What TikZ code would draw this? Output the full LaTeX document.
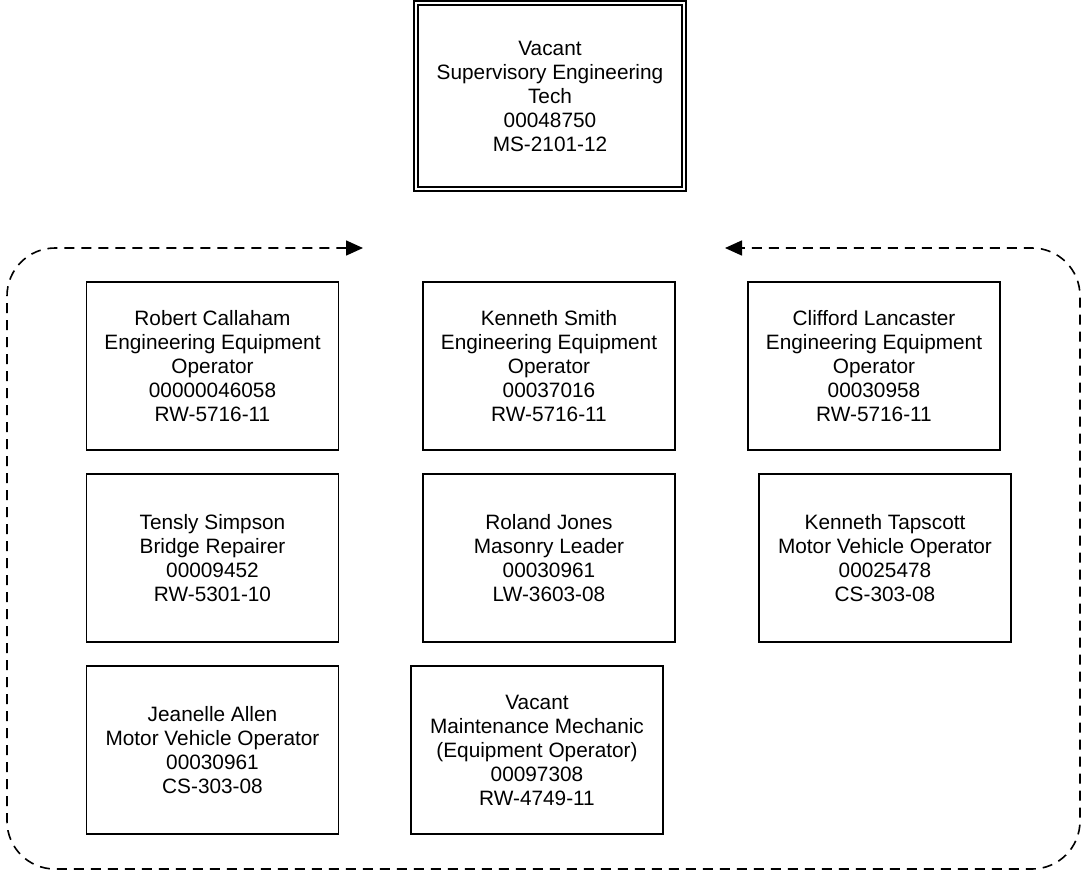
\documentclass[tikz,border=0pt]{standalone}
\usepackage{fontspec}
\setmainfont{Liberation Sans}
\usetikzlibrary{positioning,arrows.meta}

\begin{document}
\begin{tikzpicture}[
    x=0.5pt, y=-0.5pt,
    font=\fontsize{10.4}{12}\selectfont,
    box/.style={draw, line width=0.9pt, align=center, inner sep=0pt,
      minimum width=126pt, minimum height=84pt},
    topbox/.style={draw, double, line width=1pt, double distance=1pt,
      align=center, inner sep=0pt, minimum width=134pt, minimum height=93pt},
    loop/.style={dash pattern=on 5pt off 3.5pt, line width=0.8pt,
      rounded corners=24pt, >={Triangle[length=8.5pt, width=7.5pt]}}
  ]
    \useasboundingbox (0,0) rectangle (1083,875);
    % supervisor
    \node[topbox] (boss) at (550,96) {Vacant\\Supervisory Engineering\\Tech\\00048750\\MS-2101-12};
    % first row
    \node[box] (callaham) at (212.5,366) {Robert Callaham\\Engineering Equipment\\Operator\\00000046058\\RW-5716-11};
    \node[box] (smith) at (549,366) {Kenneth Smith\\Engineering Equipment\\Operator\\00037016\\RW-5716-11};
    \node[box] (lancaster) at (874,366) {Clifford Lancaster\\Engineering Equipment\\Operator\\00030958\\RW-5716-11};
    % second row
    \node[box] (simpson) at (212.5,558) {Tensly Simpson\\Bridge Repairer\\00009452\\RW-5301-10};
    \node[box] (jones) at (549,558) {Roland Jones\\Masonry Leader\\00030961\\LW-3603-08};
    \node[box] (tapscott) at (885,558) {Kenneth Tapscott\\Motor Vehicle Operator\\00025478\\CS-303-08};
    % third row
    \node[box] (allen) at (212.5,750) {Jeanelle Allen\\Motor Vehicle Operator\\00030961\\CS-303-08};
    \node[box] (vacantmm) at (537,750) {Vacant\\Maintenance Mechanic\\(Equipment Operator)\\00097308\\RW-4749-11};
    % dashed loop round the staff
    \coordinate (loopL) at (363,248);
    \coordinate (loopR) at (725,248);
    \draw[loop, <->] (loopL) -- (7,248) -- (7,869) -- (1080,869) -- (1080,248) -- (loopR);
\end{tikzpicture}
\end{document}
